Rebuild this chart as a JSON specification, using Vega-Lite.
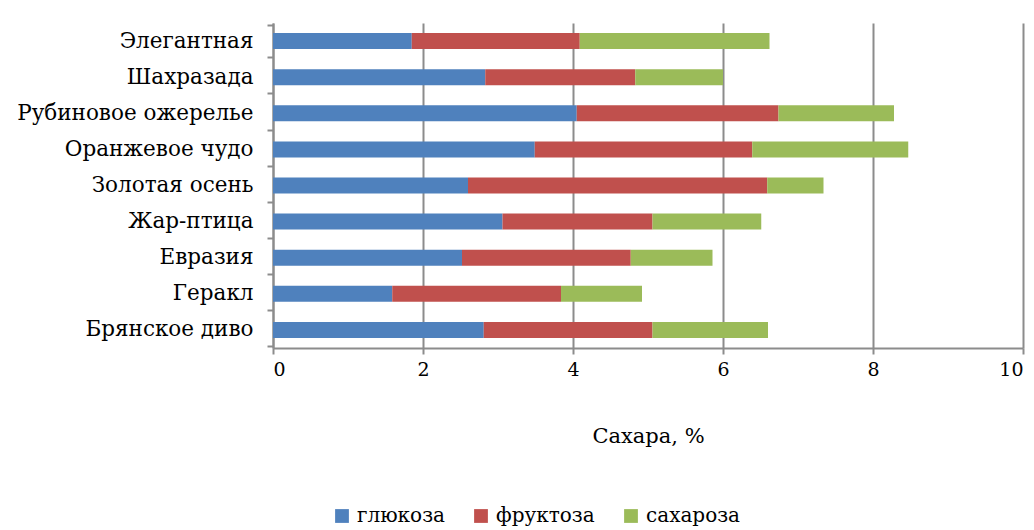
{
  "$schema": "https://vega.github.io/schema/vega-lite/v6.json",
  "autosize": {"type": "none"},
  "padding": {"left": 273, "top": 23, "right": 11, "bottom": 182},
  "width": 750,
  "height": 325,
  "background": "white",
  "config": {
    "font": "DejaVu Serif",
    "view": {"stroke": null},
    "axis": {"labelColor": "black", "titleColor": "black", "labelFont": "DejaVu Serif", "titleFont": "DejaVu Serif"},
    "legend": {"labelFont": "DejaVu Serif"}
  },
  "data": {
    "values": [
      {"sort": "Элегантная", "sugar": "глюкоза", "k": 1, "value": 1.85},
      {"sort": "Элегантная", "sugar": "фруктоза", "k": 2, "value": 2.24},
      {"sort": "Элегантная", "sugar": "сахароза", "k": 3, "value": 2.53},
      {"sort": "Шахразада", "sugar": "глюкоза", "k": 1, "value": 2.83},
      {"sort": "Шахразада", "sugar": "фруктоза", "k": 2, "value": 2.0},
      {"sort": "Шахразада", "sugar": "сахароза", "k": 3, "value": 1.17},
      {"sort": "Рубиновое ожерелье", "sugar": "глюкоза", "k": 1, "value": 4.05},
      {"sort": "Рубиновое ожерелье", "sugar": "фруктоза", "k": 2, "value": 2.69},
      {"sort": "Рубиновое ожерелье", "sugar": "сахароза", "k": 3, "value": 1.54},
      {"sort": "Оранжевое чудо", "sugar": "глюкоза", "k": 1, "value": 3.49},
      {"sort": "Оранжевое чудо", "sugar": "фруктоза", "k": 2, "value": 2.9},
      {"sort": "Оранжевое чудо", "sugar": "сахароза", "k": 3, "value": 2.08},
      {"sort": "Золотая осень", "sugar": "глюкоза", "k": 1, "value": 2.6},
      {"sort": "Золотая осень", "sugar": "фруктоза", "k": 2, "value": 3.99},
      {"sort": "Золотая осень", "sugar": "сахароза", "k": 3, "value": 0.75},
      {"sort": "Жар-птица", "sugar": "глюкоза", "k": 1, "value": 3.06},
      {"sort": "Жар-птица", "sugar": "фруктоза", "k": 2, "value": 2.0},
      {"sort": "Жар-птица", "sugar": "сахароза", "k": 3, "value": 1.45},
      {"sort": "Евразия", "sugar": "глюкоза", "k": 1, "value": 2.52},
      {"sort": "Евразия", "sugar": "фруктоза", "k": 2, "value": 2.25},
      {"sort": "Евразия", "sugar": "сахароза", "k": 3, "value": 1.09},
      {"sort": "Геракл", "sugar": "глюкоза", "k": 1, "value": 1.59},
      {"sort": "Геракл", "sugar": "фруктоза", "k": 2, "value": 2.25},
      {"sort": "Геракл", "sugar": "сахароза", "k": 3, "value": 1.08},
      {"sort": "Брянское диво", "sugar": "глюкоза", "k": 1, "value": 2.81},
      {"sort": "Брянское диво", "sugar": "фруктоза", "k": 2, "value": 2.25},
      {"sort": "Брянское диво", "sugar": "сахароза", "k": 3, "value": 1.54}
    ]
  },
  "mark": {"type": "bar", "size": 16},
  "encoding": {
    "y": {
      "field": "sort",
      "type": "nominal",
      "sort": ["Элегантная", "Шахразада", "Рубиновое ожерелье", "Оранжевое чудо", "Золотая осень", "Жар-птица", "Евразия", "Геракл", "Брянское диво"],
      "axis": {
        "title": null,
        "labelFontSize": 21.5,
        "labelPadding": 14,
        "labelLimit": 300,
        "tickBand": "extent",
        "tickSize": 6,
        "tickColor": "#8c8c8c",
        "tickWidth": 2,
        "domainColor": "#8c8c8c",
        "domainWidth": 2,
        "grid": false
      }
    },
    "x": {
      "field": "value",
      "type": "quantitative",
      "stack": "zero",
      "scale": {"domain": [0, 10], "nice": false},
      "axis": {
        "title": "Сахара, %",
        "titleFontSize": 21,
        "titleFontWeight": "normal",
        "titlePadding": 46,
        "values": [0, 2, 4, 6, 8, 10],
        "labelFontSize": 19,
        "labelPadding": 6,
        "tickSize": 6,
        "tickColor": "#8c8c8c",
        "tickWidth": 2,
        "domainColor": "#8c8c8c",
        "domainWidth": 2,
        "grid": true,
        "gridColor": "#8c8c8c",
        "gridWidth": 2
      }
    },
    "color": {
      "field": "sugar",
      "type": "nominal",
      "scale": {"domain": ["глюкоза", "фруктоза", "сахароза"], "range": ["#4F81BD", "#C0504D", "#9BBB59"]},
      "legend": {
        "title": null,
        "orient": "none",
        "direction": "horizontal",
        "legendX": 59,
        "legendY": 483,
        "symbolType": "square",
        "symbolSize": 190,
        "symbolStrokeWidth": 0,
        "labelFontSize": 20,
        "labelOffset": 5,
        "labelColor": "black",
        "columnPadding": 26
      }
    },
    "order": {"field": "k", "type": "quantitative"}
  }
}
